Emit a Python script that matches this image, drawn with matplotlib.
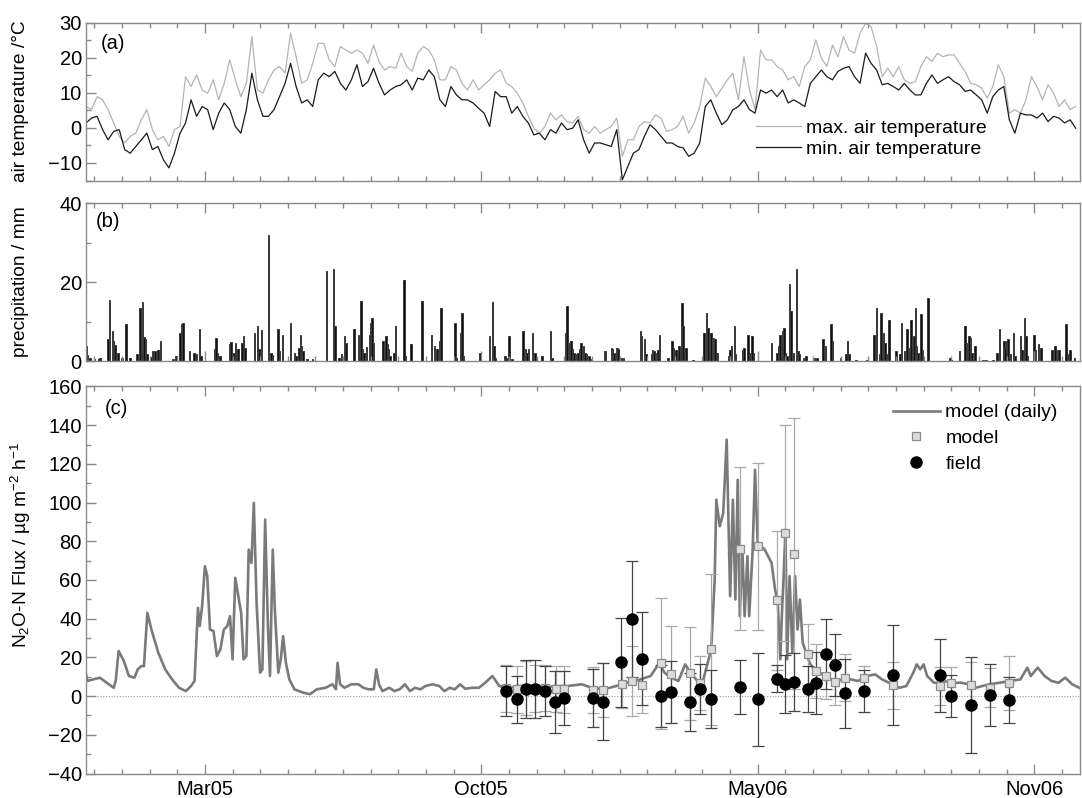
import numpy as np
import pandas as pd
import matplotlib
matplotlib.use('Agg')
import matplotlib.pyplot as plt
from matplotlib.ticker import FixedLocator, MultipleLocator

plt.rcParams['font.family'] = ['Liberation Sans', 'DejaVu Sans']
plt.rcParams['font.size'] = 14.5
plt.rcParams['mathtext.fontset'] = 'custom'
plt.rcParams['mathtext.rm'] = 'Liberation Sans'
plt.rcParams['mathtext.it'] = 'Liberation Sans'

# days since 2005-01-01
day0 = pd.Timestamp('2005-01-01')
xlim = (2, 721)
major_days = [88, 288, 488, 688]

# (a) air temperature, read every 4 days starting at day 2
temp_day = np.arange(2, 719, 4)
tmax = [6.1, 5.2, 8.9, 8.0, 5.2, 1.4, -2.4, -4.3, -2.4, -1.5, 2.3, 5.2, -0.5, -3.4, -2.4, -5.3, -0.5, 0.4,
        14.6, 11.8, 15.1, 10.8, 9.9, 13.7, 8.0, 12.7, 19.4, 13.7, 8.9, 12.7, 26.0, 10.8, 9.9, 13.7, 16.5,
        17.5, 15.6, 27.0, 20.3, 12.7, 13.7, 18.4, 24.1, 24.1, 19.4, 17.5, 23.2, 22.2, 21.3, 22.2,
        21.3, 18.4, 23.6, 18.9, 16.5, 17.5, 17.0, 21.3, 17.5, 16.1, 21.3, 23.2, 22.2, 19.4, 13.7, 13.7,
        17.5, 16.5, 12.7, 10.8, 13.7, 10.8, 12.3, 13.7, 15.6, 16.5, 12.7, 11.8, 9.9, 7.1, 3.3, -0.1,
        -1.5, 0.4, 4.2, 2.3, 3.7, 1.8, 1.4, 3.3, -0.5, -1.5, 0.4, -1.5, -0.5, 0.4, 2.8, -8.1, -3.4,
        -3.4, 0.4, 1.8, 1.4, 3.7, 2.8, -1.0, -0.5, 0.4, 3.3, -1.5, 1.4, 6.1, 14.2, 11.8, 8.9,
        11.3, 13.7, 15.6, 8.0, 20.3, 10.8, 5.2, 22.2, 19.4, 19.4, 17.5, 16.5, 13.7, 14.6, 11.8, 17.5,
        19.4, 25.1, 19.9, 17.5, 23.6, 20.3, 26.0, 22.2, 21.3, 27.0, 29.8, 28.9, 23.2, 14.6, 17.0, 14.6,
        17.5, 13.7, 12.7, 13.2, 17.5, 20.3, 18.9, 21.3, 20.3, 20.8, 20.8, 18.4, 16.1, 12.7, 12.3, 11.3,
        8.5, 11.8, 18.0, 14.6, 4.2, 5.2, 4.2, 8.0, 14.6, 11.8, 8.0, 12.3, 9.9, 6.1, 8.0, 5.2, 6.1]
tmin = [1.4, 2.8, 3.3, -0.5, -3.4, -1.0, -0.5, -6.2, -7.2, -5.3, -3.4, -1.5, -6.2, -5.3, -9.1, -11.4,
        -7.2, -1.5, 1.4, 8.0, 3.3, 6.1, 5.2, -0.5, 4.2, 7.1, 5.2, 0.4, -1.5, 5.2, 15.6, 8.0, 3.3, 3.3,
        5.2, 8.9, 12.7, 18.4, 11.8, 7.1, 8.0, 6.1, 13.7, 15.6, 14.6, 16.1, 12.7, 10.8, 13.7, 18.0,
        11.8, 13.2, 17.0, 12.7, 9.4, 10.8, 11.8, 12.3, 13.7, 10.8, 14.2, 13.7, 16.5, 14.6, 8.0, 6.1,
        11.8, 9.4, 8.0, 8.0, 7.1, 5.6, 4.2, 0.4, 10.4, 8.9, 8.9, 4.2, 6.1, 3.3, 1.4, -2.0, -1.5, -3.4,
        -0.5, -1.5, 1.4, -0.5, -0.1, 2.3, -3.4, -7.2, -4.3, -4.3, -4.8, -5.3, -0.5, -14.8, -11.0, -7.2,
        -6.2, -2.4, 0.9, -0.5, -2.4, -4.3, -4.3, -5.3, -5.7, -8.1, -7.2, -4.3, 6.1, 8.0, 4.2,
        0.9, 2.3, 5.2, 6.1, 8.0, 5.2, 4.2, 10.8, 9.9, 10.8, 8.9, 10.8, 7.1, 8.0, 7.1, 6.1, 12.7, 14.6,
        16.5, 14.6, 13.7, 16.1, 17.0, 17.5, 14.6, 12.7, 21.3, 18.4, 16.5, 12.3, 12.7, 11.8, 10.8, 12.7,
        10.8, 9.4, 9.4, 12.7, 15.1, 12.7, 13.7, 14.6, 13.2, 12.3, 10.4, 10.8, 9.4, 8.0, 4.2, 8.9, 10.8,
        11.8, 2.3, -1.5, 4.2, 3.7, 3.7, 2.8, 4.2, 1.8, 3.3, 2.8, 1.4, 2.3, -0.1]

# (b) daily precipitation (day, mm)
precip_day = [2, 3, 5, 8, 11, 12, 18, 19, 21, 22, 23, 25, 28, 31, 34, 39, 41, 43, 44, 45, 46, 49, 50,
              52, 54, 56, 65, 67, 70, 71, 72, 77, 80, 82, 84, 85, 95, 96, 97, 99, 106, 107, 109, 110,
              112, 115, 116, 117, 124, 126, 127, 129, 134, 136, 137, 141, 142, 144, 150, 153, 154, 156,
              157, 158, 159, 162, 166, 176, 181, 182, 185, 187, 189, 190, 196, 199, 201, 202, 203, 205,
              207, 208, 209, 210, 217, 219, 220, 221, 222, 225, 226, 232, 233, 237, 245, 252, 254, 256,
              258, 259, 269, 270, 273, 274, 275, 287, 294, 296, 297, 298, 305, 306, 308, 310, 318, 320,
              321, 322, 325, 327, 328, 332, 338, 339, 349, 350, 352, 353, 354, 355, 357, 358, 359, 360,
              362, 363, 364, 366, 367, 377, 378, 382, 383, 384, 386, 387, 389, 391, 403, 404, 406, 407,
              411, 412, 413, 414, 416, 417, 423, 426, 427, 429, 431, 432, 433, 434, 436, 441, 449, 451,
              452, 453, 454, 456, 457, 458, 459, 467, 468, 469, 471, 472, 477, 478, 481, 482, 484, 485,
              498, 502, 503, 504, 506, 507, 508, 509, 511, 512, 514, 516, 517, 518, 521, 523, 529, 531,
              535, 537, 541, 542, 548, 552, 553, 554, 559, 567, 572, 574, 576, 577, 579, 580, 581, 583,
              588, 591, 592, 594, 596, 598, 599, 601, 602, 603, 604, 606, 607, 611, 627, 628, 634, 638,
              639, 641, 642, 643, 645, 651, 653, 658, 661, 663, 666, 667, 668, 669, 671, 673, 674, 678,
              679, 681, 682, 683, 688, 689, 691, 693, 701, 703, 704, 706, 711, 712, 714, 717]
precip_mm = [3.8, 1.5, 0.8, 0.6, 0.5, 0.8, 5.5, 15.4, 7.7, 5.0, 4.0, 2.0, 0.8, 9.3, 0.8, 1.7, 13.5, 14.9,
             6.0, 5.5, 1.8, 1.0, 2.5, 2.5, 2.8, 5.0, 0.5, 1.2, 7.2, 9.3, 9.7, 2.5, 2.0, 1.7, 8.0, 1.2,
             3.0, 5.8, 2.0, 1.2, 4.2, 4.8, 2.0, 4.6, 3.0, 4.6, 6.3, 3.4, 7.2, 8.8, 3.0, 7.9, 32.0, 2.0,
             1.5, 8.0, 2.5, 6.5, 9.7, 2.0, 1.2, 3.4, 6.7, 3.8, 2.5, 0.5, 0.5, 22.8, 23.3, 8.8, 0.8, 1.7,
             6.3, 4.6, 8.0, 6.5, 15.3, 3.0, 2.0, 3.5, 6.7, 9.7, 11.0, 4.6, 5.0, 6.3, 4.2, 3.0, 1.2, 2.0,
             8.8, 20.6, 1.2, 4.2, 15.3, 6.5, 3.8, 3.0, 5.0, 13.5, 9.7, 0.8, 7.2, 12.2, 1.2, 2.1, 6.3,
             15.0, 3.8, 0.8, 1.2, 0.8, 6.3, 0.5, 7.6, 3.0, 2.1, 3.0, 7.2, 2.1, 0.8, 1.3, 7.6, 0.8, 7.2,
             13.9, 4.6, 5.0, 3.0, 2.1, 1.7, 2.1, 3.0, 4.6, 3.8, 2.1, 1.7, 1.2, 0.5, 2.5, 2.5, 3.4, 3.0,
             2.1, 3.4, 3.0, 0.8, 0.8, 7.6, 6.3, 5.5, 1.7, 1.7, 2.9, 2.5, 2.1, 2.9, 6.7, 0.8, 5.0, 3.4,
             2.9, 3.8, 2.9, 14.7, 8.8, 3.4, 0.4, 7.2, 12.2, 8.4, 1.3, 7.2, 5.9, 5.5, 2.1, 2.1, 1.3, 2.9,
             3.8, 8.8, 1.7, 2.9, 3.4, 6.7, 2.1, 6.3, 2.1, 4.6, 2.1, 3.8, 6.7, 7.6, 8.4, 2.1, 1.3, 19.4,
             12.6, 2.1, 23.2, 2.5, 1.7, 0.8, 1.3, 0.8, 0.8, 5.5, 3.8, 9.3, 5.0, 0.8, 1.7, 5.0, 1.7, 0.4,
             0.4, 6.7, 13.5, 1.7, 12.2, 7.2, 4.6, 1.7, 10.5, 2.5, 1.7, 9.7, 2.5, 8.0, 3.4, 10.5, 6.3,
             13.5, 3.8, 2.1, 11.8, 2.9, 16.0, 0.8, 0.4, 2.5, 8.8, 4.6, 6.3, 5.9, 2.1, 3.8, 0.3, 0.3, 0.4,
             2.1, 8.0, 5.0, 3.4, 5.0, 5.5, 1.7, 7.2, 1.3, 6.3, 2.9, 10.9, 6.3, 1.3, 6.7, 2.9, 4.2, 3.4,
             2.9, 3.8, 2.9, 2.9, 9.3, 1.7, 2.9, 0.8]

# (c) modelled daily N2O-N flux (day, flux)
model_day = [2, 3, 7, 12, 17, 22, 23.5, 25.6, 29.4, 33, 37, 39.4, 41.9, 43.9, 46.4, 49.3, 54.3, 59.3,
             64.3, 69.3, 74.3, 78, 80.5, 83, 84.3, 86, 88, 89.7, 91.7, 94.2, 96.7, 99.2, 101.7, 104.2,
             106.2, 108, 110, 112.2, 114.2, 116, 118, 119.7, 121.7, 123.4, 125.4, 127.9, 129.6, 131.6,
             133.6, 135.1, 137.1, 138.6, 141.1, 142.9, 144.6, 146.6, 149.1, 152.8, 159, 164, 169,
             175.3, 180.3, 182.8, 184, 185.8, 189, 194, 199, 202.7, 206.5, 210.2, 212, 214, 216.4,
             221.4, 225.2, 228.9, 232.7, 236.4, 240.1, 243.9, 247.6, 252.6, 257.6, 261.3, 265.1,
             268.8, 272.6, 276.3, 281.3, 286.3, 290.8, 296, 301, 308.7, 313.7, 321.2, 328.7,
             335, 340.5, 350.5, 360.5, 368, 376.8, 385.5, 393, 398, 403, 410.5, 416.8, 420.5, 425.5,
             430.5, 435.5, 439.3, 444.3, 448, 450.5, 454.3, 456.8, 458, 460.5, 463, 465.5, 468, 470,
             471.8, 473.5, 475, 476.8, 478.5, 480.5, 481.8, 484.3, 486, 488, 490.5, 493, 495.5, 498,
             500.5, 502.5, 504.3, 505.5, 506.8, 508, 509.3, 511, 513, 515, 516.8, 518.5, 520.5, 523,
             525.5, 529.3, 535.5, 543, 550.5, 555.5, 560.5, 566.8, 573, 578, 583, 590.5, 595.5, 600.5,
             603, 605.5, 608, 610.5, 615.5, 620.5, 625.5, 630.5, 635.5, 640.5, 645.5, 650.5, 655.5,
             663, 670.5, 678, 683, 685.5, 690.5, 695.5, 700.5, 705.5, 710.5, 715.5, 720.5]
model_flux = [11.2, 7.8, 8.6, 9.5, 6.9, 4.3, 8.0, 23.3, 18.1, 10.4, 9.5, 13.8, 15.5, 15.5, 43.0, 34.4,
              22.4, 13.8, 8.6, 4.3, 2.6, 5.2, 7.8, 45.6, 36.2, 46.5, 67.1, 62.0, 34.4, 33.6, 20.7, 24.1,
              34.4, 36.2, 41.3, 19.0, 61.1, 51.6, 43.0, 19.0, 20.7, 75.7, 68.8, 99.8, 48.2, 12.1, 13.8,
              91.2, 36.2, 10.4, 75.7, 44.8, 12.1, 19.0, 31.0, 17.2, 8.6, 3.5, 1.8, 1.0, 3.5, 4.3, 6.1,
              3.5, 17.2, 6.1, 4.3, 6.1, 6.1, 4.3, 3.5, 3.5, 13.8, 6.1, 2.6, 4.3, 2.6, 3.5, 6.1, 2.6, 4.3,
              3.5, 5.2, 6.1, 5.2, 2.6, 4.3, 3.5, 6.1, 3.8, 4.3, 4.3, 6.9, 10.4, 5.2, 4.3, 5.2, 5.2, 5.2,
              4.3, 5.2, 5.2, 6.1, 4.3, 3.5, 5.2, 6.9, 7.8, 8.6, 10.4, 17.2, 12.1, 9.5, 7.8, 16.4, 12.1,
              7.8, 6.9, 13.8, 24.1, 60.0, 101.5, 87.8, 94.6, 132.5, 51.6, 101.5, 49.9, 111.8, 41.3,
              77.4, 41.3, 72.3, 41.3, 75.7, 117.0, 77.4, 77.4, 75.7, 72.3, 68.8, 55.1, 48.2, 19.0, 43.0,
              63.7, 86.0, 19.0, 62.0, 22.4, 62.0, 34.4, 49.9, 27.6, 22.4, 17.2, 13.0, 11.2, 7.8, 8.6,
              8.6, 7.8, 10.4, 11.2, 8.6, 6.9, 4.3, 5.2, 12.1, 16.4, 13.8, 16.4, 10.4, 6.9, 6.9, 7.8, 6.9,
              6.9, 6.1, 4.3, 5.2, 6.1, 6.9, 7.8, 8.6, 14.7, 10.4, 14.7, 10.4, 7.8, 6.9, 9.5, 6.1, 4.3]

# model at sampling dates, with error
samp_model_day = [306, 314, 320, 327, 334, 342, 348, 369, 376, 390, 397, 404, 418, 425, 439, 446, 454,
                  475, 488, 502, 508, 514, 524, 530, 537, 544, 551, 565, 586, 620, 628, 642, 656, 670]
samp_model = [4.0, 3.5, 4.0, 4.0, 4.3, 3.8, 3.5, 3.1, 3.1, 6.1, 7.8, 5.5, 16.9, 11.2, 11.7, 6.9, 24.1,
              76.2, 77.4, 49.4, 84.3, 73.5, 21.5, 12.9, 10.4, 7.3, 9.5, 9.5, 5.5, 5.2, 6.9, 5.7, 4.3, 6.9]
samp_model_err = [12, 12, 14, 12, 12, 12, 12, 12, 14, 12, 18, 14, 34, 25, 24, 14, 39,
                  42, 43, 36, 56, 70, 16, 14, 12, 12, 12, 6, 12, 10, 8, 12, 10, 14]

# field measurements, with error
field_day = [306, 314, 320, 327, 334, 341, 348, 369, 376, 389, 397, 404, 418, 425, 439, 446, 454,
             475, 488, 502, 508, 514, 524, 530, 537, 544, 551, 565, 586, 620, 628, 642, 656, 670]
field_flux = [2.6, -1.7, 3.8, 3.8, 2.6, -2.9, -0.8, -0.8, -2.9, 17.6, 40.0, 19.3, 0.0, 2.3, -2.9, 3.5,
              -1.4, 4.7, -1.7, 9.0, 6.1, 7.4, 3.8, 6.9, 21.9, 15.9, 1.4, 2.6, 10.9, 10.7, 0.0, -4.6, 0.5,
              -2.0]
field_err = [13, 12, 15, 15, 13, 16, 14, 15, 20, 23, 30, 24, 16, 16, 15, 13, 15,
             14, 24, 7, 15, 15, 12, 16, 18, 16, 18, 11, 26, 19, 11, 25, 16, 12]

edge = '#8a8a8a'
fs = 14.5
fs_lab = 13.8

fig = plt.figure(figsize=(10.82, 7.98), dpi=100)
ax_a = fig.add_axes([0.0795, 0.7738, 0.9185, 0.1978])
ax_b = fig.add_axes([0.0795, 0.5475, 0.9185, 0.1981])
ax_c = fig.add_axes([0.0795, 0.0307, 0.9185, 0.4850])


def style_axis(ax, ymaj, ymin, ylim):
    ax.set_xlim(*xlim)
    ax.set_ylim(*ylim)
    ax.xaxis.set_major_locator(FixedLocator(major_days))
    ax.xaxis.set_minor_locator(MultipleLocator(20, offset=8))
    ax.yaxis.set_major_locator(MultipleLocator(ymaj))
    ax.yaxis.set_minor_locator(MultipleLocator(ymin))
    ax.tick_params(which='both', direction='in', top=True, right=False, color=edge, width=1)
    ax.tick_params(which='major', length=7, labelsize=fs, pad=3)
    ax.tick_params(which='minor', length=3.5)
    for s in ax.spines.values():
        s.set_color(edge)
        s.set_linewidth(1)
    ax.yaxis.set_label_coords(-0.057, 0.5)


# (a) temperature
style_axis(ax_a, 10, 5, (-15, 30))
ax_a.plot(temp_day, tmax, color='#b4b4b4', lw=0.9, label='max. air temperature')
ax_a.plot(temp_day, tmin, color='#1a1a1a', lw=0.9, label='min. air temperature')
ax_a.set_xticklabels([])
ax_a.set_ylabel('air temperature /°C', fontsize=fs_lab)
ax_a.text(0.015, 0.87, '(a)', transform=ax_a.transAxes, fontsize=fs, va='center')
ax_a.legend(loc='upper left', bbox_to_anchor=(0.674, 0.39), frameon=False, borderpad=0,
            borderaxespad=0, handlelength=2.3, handletextpad=0.3, labelspacing=0.2, fontsize=14)

# (b) precipitation
style_axis(ax_b, 20, 10, (0, 40))
ax_b.bar(precip_day, precip_mm, width=1.1, color='#111111', edgecolor='#3a3a3a', linewidth=0.7)
ax_b.set_xticklabels([])
ax_b.set_ylabel('precipitation / mm', fontsize=fs_lab)
ax_b.text(0.01, 0.88, '(b)', transform=ax_b.transAxes, fontsize=fs, va='center')

# (c) N2O-N flux
style_axis(ax_c, 20, 10, (-40, 160))
ax_c.axhline(0, color='#9a9a9a', lw=0.8, ls=(0, (1, 1.5)), zorder=1)
ax_c.plot(model_day, model_flux, color='#7a7a7a', lw=1.9, zorder=2, label='model (daily)')
ax_c.errorbar(samp_model_day, samp_model, yerr=samp_model_err, fmt='none', ecolor='#a8a8a8',
              elinewidth=0.9, capsize=4, capthick=0.9, zorder=3)
ax_c.errorbar(field_day, field_flux, yerr=field_err, fmt='none', ecolor='#444444',
              elinewidth=0.9, capsize=4, capthick=0.9, zorder=3)
ax_c.plot(samp_model_day, samp_model, ls='none', marker='s', ms=6, mfc='#dcdcdc', mec='#8c8c8c',
          mew=0.9, zorder=4, label='model')
ax_c.plot(field_day, field_flux, ls='none', marker='o', ms=8, mfc='black', mec='black',
          zorder=5, label='field')
labels = [(day0 + pd.Timedelta(days=d)).strftime('%b%y') for d in major_days]
ax_c.set_xticklabels(labels)
ax_c.tick_params(axis='x', which='major', pad=5)
ax_c.set_ylabel(r'N$_2$O-N Flux / µg m$^{-2}$ h$^{-1}$', fontsize=fs_lab)
ax_c.yaxis.set_label_coords(-0.053, 0.59)
ax_c.text(0.019, 0.944, '(c)', transform=ax_c.transAxes, fontsize=fs, va='center')
ax_c.legend(loc='upper left', bbox_to_anchor=(0.812, 0.955), frameon=False, borderpad=0,
            borderaxespad=0, handlelength=2.4, handletextpad=0.3, labelspacing=0.42, fontsize=14)

fig.savefig('out.png', dpi=100)
